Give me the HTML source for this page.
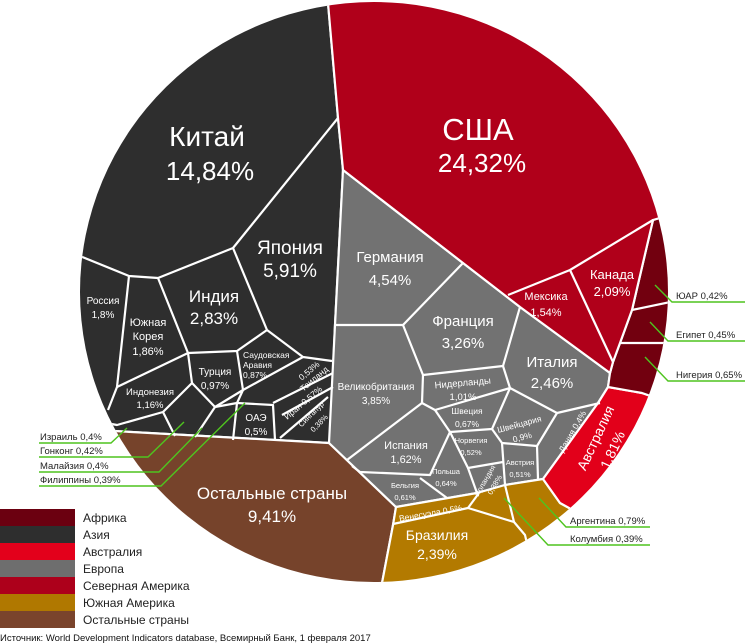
<!DOCTYPE html>
<html><head><meta charset="utf-8"><style>
html,body{margin:0;padding:0;background:#fff;}
svg{display:block;font-family:"Liberation Sans",Arial,sans-serif;}
</style></head><body>
<svg width="749" height="644" viewBox="0 0 749 644" xmlns="http://www.w3.org/2000/svg">
<defs><clipPath id="c"><ellipse cx="374" cy="292" rx="294" ry="290"/></clipPath></defs>
<g clip-path="url(#c)" stroke="#fff" stroke-width="2.2" stroke-linejoin="round" fill="none">
<polygon fill="#2e2e2e" points="326,-20 338,118 343,170 335,325 330,443 60,428 0,428 0,-20"/>
<polygon fill="#76432b" points="60,428 329,443 396,507 393,525 375,620 40,620"/>
<polygon fill="#727272" points="343,170 463,263 520,307 610,373 608,387 598,403 543,479 505,485 477,493 396,507 329,443 335,325"/>
<polygon fill="#b37a00" points="396,507 477,493 505,485 543,479 560,503 700,580 375,620 393,525"/>
<polygon fill="#e2001a" points="543,479 598,403 608,387 642,393 720,420 700,580 560,503"/>
<polygon fill="#72000f" points="653,220 632,310 620,343 613,362 610,373 608,387 642,393 720,420 720,200"/>
<polygon fill="#b0001a" points="326,-20 720,-20 720,200 653,220 632,310 620,343 613,362 610,373 520,307 463,263 343,170 338,118"/>
<polyline points="338,118 233,248"/>
<polyline points="233,248 158,278 129,276 70,252"/>
<polyline points="233,248 267,330"/>
<polyline points="267,330 303,357 332,361"/>
<polyline points="267,330 237,351 188,353 158,278"/>
<polyline points="129,276 117,387 108,410"/>
<polyline points="188,353 117,387"/>
<polyline points="188,353 192,383 163,412 117,425 90,420"/>
<polyline points="237,351 243,390 215,407 192,383"/>
<polyline points="303,357 243,390"/>
<polyline points="333,373 273,403"/>
<polyline points="333,387 282,415"/>
<polyline points="328,397 280,438"/>
<polyline points="243,390 237,403 273,405 275,440"/>
<polyline points="237,403 233,440"/>
<polyline points="163,412 175,436"/>
<polyline points="215,407 195,437"/>
<polyline points="237,403 215,407"/>
<polyline points="335,325 403,325 463,263"/>
<polyline points="403,325 423,375 503,366 520,307"/>
<polyline points="423,375 422,403 347,460"/>
<polyline points="503,366 510,388 435,410 422,403"/>
<polyline points="510,388 557,413 600,403"/>
<polyline points="435,410 450,432 492,429 510,388"/>
<polyline points="492,429 502,443 537,446 557,413"/>
<polyline points="537,446 538,479"/>
<polyline points="450,432 430,475 360,472 352,466"/>
<polyline points="420,478 447,498"/>
<polyline points="450,432 468,468 503,462"/>
<polyline points="468,468 477,493"/>
<polyline points="502,443 505,485"/>
<polyline points="508,295 570,270 653,220"/>
<polyline points="570,270 613,362"/>
<polyline points="632,310 690,298"/>
<polyline points="620,343 690,343"/>
<polyline points="393,524 468,508 514,522 525,535 540,600"/>
<polyline points="468,508 479,493"/>
<polyline points="514,522 505,485"/>
</g>
<g fill="#fff" text-anchor="middle">
<text x="478" y="140" font-size="31">США</text>
<text x="482" y="172" font-size="26">24,32%</text>
<text x="207" y="146" font-size="28">Китай</text>
<text x="210" y="180" font-size="26">14,84%</text>
<text x="290" y="254" font-size="19">Япония</text>
<text x="290" y="277" font-size="19">5,91%</text>
<text x="214" y="302" font-size="17">Индия</text>
<text x="214" y="324" font-size="17">2,83%</text>
<text x="103" y="304" font-size="10">Россия</text>
<text x="103" y="318" font-size="10">1,8%</text>
<text x="148" y="326" font-size="11">Южная</text>
<text x="148" y="340" font-size="11">Корея</text>
<text x="148" y="355" font-size="11">1,86%</text>
<text x="215" y="375" font-size="10">Турция</text>
<text x="215" y="389" font-size="10">0,97%</text>
<text x="150" y="395" font-size="9.5">Индонезия</text>
<text x="150" y="408" font-size="9.5">1,16%</text>
<text x="256" y="421" font-size="10">ОАЭ</text>
<text x="256" y="435" font-size="10">0,5%</text>
<text x="390" y="262" font-size="15">Германия</text>
<text x="390" y="285" font-size="15">4,54%</text>
<text x="463" y="326" font-size="15">Франция</text>
<text x="463" y="348" font-size="15">3,26%</text>
<text x="552" y="367" font-size="15">Италия</text>
<text x="552" y="388" font-size="15">2,46%</text>
<text x="376" y="390" font-size="10">Великобритания</text>
<text x="376" y="404" font-size="10">3,85%</text>
<text x="463" y="386" font-size="9.5" transform="rotate(-5 463 386)">Нидерланды</text>
<text x="463" y="400" font-size="9.5">1,01%</text>
<text x="467" y="414" font-size="8.5">Швеция</text>
<text x="467" y="427" font-size="8.5">0,67%</text>
<text x="520" y="427" font-size="8.5" transform="rotate(-15 520 427)">Швейцария</text>
<text x="523" y="440" font-size="8.5" transform="rotate(-15 523 440)">0,9%</text>
<text x="575" y="433" font-size="8.5" transform="rotate(-60 575 433)">Дания 0,4%</text>
<text x="406" y="449" font-size="11">Испания</text>
<text x="406" y="463" font-size="11">1,62%</text>
<text x="471" y="443" font-size="7.5">Норвегия</text>
<text x="471" y="455" font-size="7.5">0,52%</text>
<text x="446" y="474" font-size="7.5">Польша</text>
<text x="446" y="486" font-size="7.5">0,64%</text>
<text x="520" y="465" font-size="7.5">Австрия</text>
<text x="520" y="477" font-size="7.5">0,51%</text>
<text x="405" y="488" font-size="7.5">Бельгия</text>
<text x="405" y="500" font-size="7.5">0,61%</text>
<text x="487" y="482" font-size="7.5" transform="rotate(-60 487 482)">Ирландия</text>
<text x="497" y="486" font-size="7.5" transform="rotate(-60 497 486)">0,38%</text>
<text x="311" y="373" font-size="8.5" transform="rotate(-40 311 373)">0,53%</text>
<text x="316" y="381" font-size="8.5" transform="rotate(-40 316 381)">Таиланд</text>
<text x="305" y="405" font-size="8.5" transform="rotate(-40 305 405)">Иран 0,57%</text>
<text x="313" y="416" font-size="7.5" transform="rotate(-45 313 416)">Сингапур</text>
<text x="321" y="425" font-size="7.5" transform="rotate(-45 321 425)">0,38%</text>
<text x="431" y="516" font-size="8.5" transform="rotate(-10 431 516)">Венесуэла 0,5%</text>
<text x="437" y="540" font-size="14">Бразилия</text>
<text x="437" y="559" font-size="14">2,39%</text>
<text x="272" y="499" font-size="17">Остальные страны</text>
<text x="272" y="522" font-size="17">9,41%</text>
<text x="600" y="440" font-size="14" transform="rotate(-65 600 440)">Австралия</text>
<text x="617" y="452" font-size="14" transform="rotate(-65 617 452)">1,81%</text>
<text x="546" y="300" font-size="11">Мексика</text>
<text x="546" y="316" font-size="11">1,54%</text>
<text x="612" y="279" font-size="13">Канада</text>
<text x="612" y="296" font-size="13">2,09%</text>
</g>
<g fill="#fff" font-size="8.5">
<text x="243" y="358">Саудовская</text>
<text x="243" y="368">Аравия</text>
<text x="243" y="378">0,87%</text>
</g>
<g stroke="#4fc41f" stroke-width="1.4" fill="none">
<polyline points="39,443 111,443 127,428"/>
<polyline points="39,457 148,457 184,422"/>
<polyline points="39,472 159,472 202,428"/>
<polyline points="39,486 161,486 245,403"/>
<polyline points="655,285 672,302 745,302"/>
<polyline points="650,322 668,341 745,341"/>
<polyline points="645,357 668,381 745,381"/>
<polyline points="539,498 566,527 650,527"/>
<polyline points="504,498 548,545 650,545"/>
</g>
<g font-size="9.5" fill="#222">
<text x="40" y="440">Израиль 0,4%</text>
<text x="40" y="454">Гонконг 0,42%</text>
<text x="40" y="469">Малайзия 0,4%</text>
<text x="40" y="483">Филиппины 0,39%</text>
<text x="676" y="299">ЮАР 0,42%</text>
<text x="676" y="338">Египет 0,45%</text>
<text x="676" y="378">Нигерия 0,65%</text>
<text x="570" y="524">Аргентина 0,79%</text>
<text x="570" y="542">Колумбия 0,39%</text>
</g>
<g>
<rect x="0" y="509" width="75" height="17" fill="#6b0010"/>
<rect x="0" y="526" width="75" height="17" fill="#2e2e2e"/>
<rect x="0" y="543" width="75" height="17" fill="#e3001b"/>
<rect x="0" y="560" width="75" height="17" fill="#6e6e6e"/>
<rect x="0" y="577" width="75" height="17" fill="#ad001b"/>
<rect x="0" y="594" width="75" height="17" fill="#b07800"/>
<rect x="0" y="611" width="75" height="17" fill="#7a442c"/>
</g>
<g font-size="12" fill="#222">
<text x="83" y="522">Африка</text>
<text x="83" y="539">Азия</text>
<text x="83" y="556">Австралия</text>
<text x="83" y="573">Европа</text>
<text x="83" y="590">Северная Америка</text>
<text x="83" y="607">Южная Америка</text>
<text x="83" y="624">Остальные страны</text>
</g>
<text x="0" y="641" font-size="9.5" fill="#111">Источник: World Development Indicators database, Всемирный Банк, 1 февраля 2017</text>
</svg>
</body></html>
